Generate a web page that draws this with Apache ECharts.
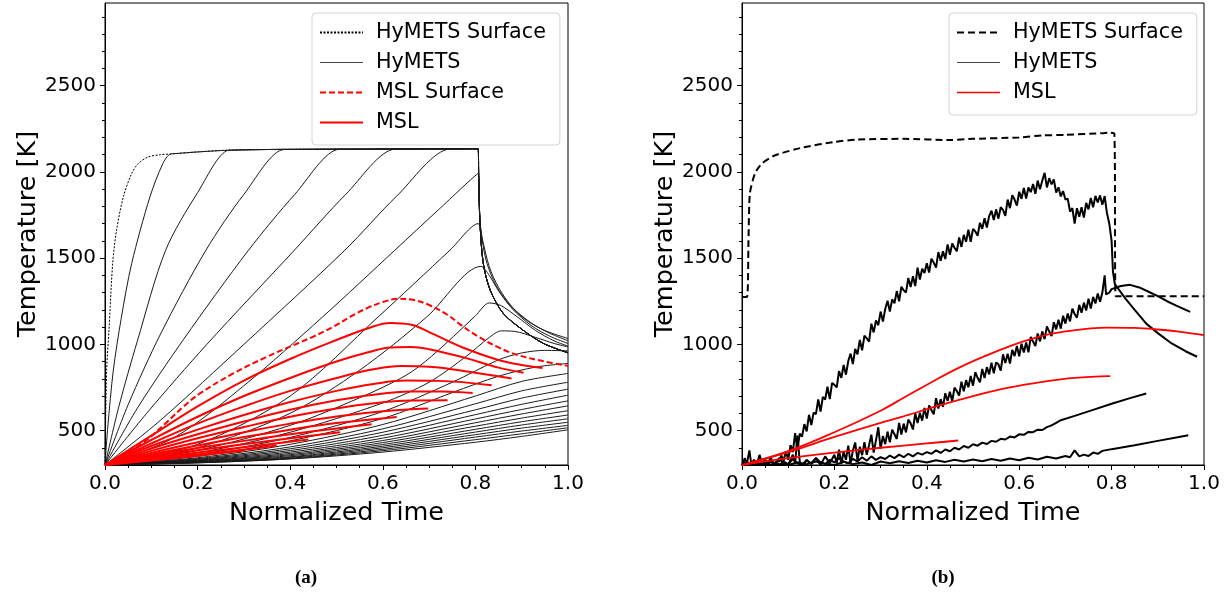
<!DOCTYPE html>
<html><head><meta charset="utf-8">
<script src="https://cdn.jsdelivr.net/npm/echarts@6/dist/echarts.min.js"></script>
<style>html,body{margin:0;padding:0;background:#fff}#c{width:1227px;height:596px}</style>
</head><body><div id="c"></div>
<script>
// ---------- tick labels ----------
const yMajorTicks = [500, 1000, 1500, 2000, 2500];
const yMinorTicks = [400, 600, 700, 800, 900, 1100, 1200, 1300, 1400, 1600, 1700, 1800, 1900, 2100, 2200, 2300, 2400, 2600, 2700, 2800, 2900];

// ---------- panel (a): HyMETS ----------
const aSteepTail = [[0.807,1990],[0.810,1700],[0.817,1470],[0.832,1314],[0.86,1180],[0.903,1082],[0.947,1005],[1.0,951]];
const aHyMETSSurface = [[0,300],[0.0036,850],[0.0086,1082],[0.0166,1469],[0.025,1662],[0.0396,1855],[0.0576,1991],[0.072,2049],[0.0936,2087],[0.12,2100],[0.141,2104],[0.2,2116],[0.267,2126],[0.385,2131],[0.6,2133],[0.8,2134],[0.806,2134]];
const aH1 = [[0,300],[0.006,520],[0.018,850],[0.035,1150],[0.0576,1469],[0.097,1855],[0.125,2049],[0.141,2104],[0.15,2106],[0.2,2116],[0.267,2126],[0.385,2131],[0.6,2133],[0.8,2134],[0.806,2134]];
const aH2 = [[0,300],[0.03,640],[0.07,1020],[0.131,1546],[0.2,1880],[0.267,2126],[0.28,2127],[0.385,2131],[0.6,2133],[0.8,2134],[0.806,2134]];
const aH3 = [[0,300],[0.05,650],[0.12,1060],[0.218,1546],[0.3,1870],[0.387,2130],[0.4,2130],[0.6,2133],[0.8,2134],[0.806,2134]];
const aH4 = [[0,300],[0.07,630],[0.17,1030],[0.31,1546],[0.41,1870],[0.506,2131],[0.52,2131],[0.65,2133],[0.8,2134],[0.806,2134]];
const aH5 = [[0,300],[0.09,600],[0.22,1000],[0.409,1546],[0.52,1870],[0.627,2132],[0.64,2132],[0.72,2133],[0.8,2134],[0.806,2134]];
const aH6 = [[0,300],[0.12,560],[0.3,1000],[0.518,1546],[0.63,1860],[0.746,2133],[0.76,2133],[0.8,2134],[0.806,2134]];
const aH7 = [[0,300],[0.15,460],[0.3,760],[0.47,1159],[0.626,1546],[0.72,1780],[0.806,1990],[0.809,1750],[0.815,1600],[0.825,1470],[0.845,1340],[0.875,1225],[0.91,1140],[0.95,1080],[1.0,1034]];
const aH8 = [[0,300],[0.2,420],[0.4,700],[0.59,1159],[0.745,1546],[0.806,1700],[0.815,1610],[0.83,1450],[0.85,1330],[0.88,1215],[0.92,1125],[0.96,1065],[1.0,1021]];
const aH9 = [[0,300],[0.2,400],[0.4,600],[0.55,850],[0.695,1159],[0.812,1452],[0.83,1400],[0.85,1310],[0.88,1205],[0.92,1110],[0.96,1048],[1.0,1005]];
const aH10 = [[0,300],[0.2,385],[0.4,530],[0.55,690],[0.65,820],[0.705,930],[0.8,1165],[0.83,1240],[0.855,1225],[0.89,1160],[0.93,1080],[0.97,1020],[1.0,990]];
const aH11 = [[0,300],[0.2,370],[0.4,490],[0.6,660],[0.7,780],[0.78,930],[0.83,1040],[0.856,1078],[0.885,1075],[0.93,1040],[0.97,1005],[1.0,985]];
const aH12 = [[0,300],[0.2,360],[0.4,460],[0.6,610],[0.75,780],[0.85,910],[0.9,950],[0.95,965],[1.0,962]];
const aH13 = [[0,300],[0.2,350],[0.4,440],[0.6,570],[0.75,720],[0.85,815],[0.93,868],[1.0,889]];
const aH14 = [[0,300],[0.2,342],[0.4,420],[0.6,535],[0.8,700],[0.9,785],[1.0,831]];
const aH15 = [[0,300],[0.2,337],[0.4,405],[0.6,510],[0.8,655],[0.9,730],[1.0,780]];
const aH16 = [[0,300],[0.2,333],[0.4,394],[0.6,490],[0.8,620],[0.9,688],[1.0,740]];
const aH17 = [[0,300],[0.2,330],[0.4,384],[0.6,472],[0.8,592],[0.9,652],[1.0,705]];
const aH18 = [[0,300],[0.2,327],[0.4,375],[0.6,456],[0.8,567],[0.9,622],[1.0,672]];
const aH19 = [[0,300],[0.2,324],[0.4,367],[0.6,442],[0.8,545],[0.9,596],[1.0,643]];
const aH20 = [[0,300],[0.2,322],[0.4,360],[0.6,430],[0.8,525],[0.9,572],[1.0,615]];
const aH21 = [[0,300],[0.2,320],[0.4,354],[0.6,419],[0.8,507],[0.9,551],[1.0,590]];
const aH22 = [[0,300],[0.2,318],[0.4,348],[0.6,409],[0.8,491],[0.9,532],[1.0,568]];
const aH23 = [[0,300],[0.2,316],[0.4,344],[0.6,400],[0.8,476],[0.9,514],[1.0,548]];
const aH24 = [[0,300],[0.2,315],[0.4,340],[0.6,391],[0.8,462],[0.9,497],[1.0,530]];
const aH25 = [[0,300],[0.2,313],[0.4,337],[0.6,383],[0.8,447],[0.9,481],[1.0,516]];
const aH26 = [[0,300],[0.2,312],[0.4,335],[0.6,375],[0.8,432],[0.9,466],[1.0,504]];

// ---------- panel (a): MSL ----------
const aMSLSurface = [[0,300],[0.04,360],[0.083,430],[0.13,540],[0.17,640],[0.205,715],[0.277,831],[0.349,927],[0.407,995],[0.45,1045],[0.494,1103],[0.53,1160],[0.566,1210],[0.6,1245],[0.634,1264],[0.665,1258],[0.7,1228],[0.74,1170],[0.77,1110],[0.806,1045],[0.85,982],[0.889,940],[0.95,900],[1.0,875]];
const aM1 = [[0,300],[0.1,470],[0.2,640],[0.3,790],[0.4,915],[0.5,1025],[0.57,1095],[0.616,1124],[0.66,1115],[0.702,1068],[0.774,980],[0.846,912],[0.9,880],[0.945,863]];
const aM2 = [[0,300],[0.1,445],[0.2,580],[0.3,700],[0.4,805],[0.5,900],[0.57,955],[0.616,982],[0.66,985],[0.7,972],[0.78,920],[0.85,865],[0.904,835]];
const aM3 = [[0,300],[0.1,425],[0.2,540],[0.3,640],[0.4,730],[0.5,805],[0.58,855],[0.64,874],[0.7,870],[0.8,835],[0.878,802]];
const aM4 = [[0,300],[0.1,410],[0.2,505],[0.3,590],[0.4,665],[0.5,730],[0.58,770],[0.65,790],[0.72,788],[0.835,763]];
const aM5 = [[0,300],[0.1,395],[0.2,478],[0.3,552],[0.4,620],[0.5,675],[0.58,708],[0.66,726],[0.73,727],[0.794,718]];
const aM6 = [[0,300],[0.1,382],[0.2,455],[0.3,520],[0.4,580],[0.5,628],[0.58,658],[0.66,674],[0.74,676]];
const aM7 = [[0,300],[0.1,370],[0.2,432],[0.3,490],[0.4,540],[0.5,582],[0.6,612],[0.698,628]];
const aM8 = [[0,300],[0.1,360],[0.2,413],[0.3,462],[0.4,505],[0.5,543],[0.63,579]];
const aM9 = [[0,300],[0.1,352],[0.2,398],[0.3,440],[0.4,478],[0.5,512],[0.576,537]];
const aM10 = [[0,300],[0.1,345],[0.2,385],[0.3,421],[0.4,455],[0.508,490]];
const aM11 = [[0,300],[0.1,338],[0.2,372],[0.3,403],[0.439,448]];
const aM12 = [[0,300],[0.1,332],[0.2,361],[0.3,388],[0.371,413]];
const aM13 = [[0,300],[0.1,326],[0.2,354],[0.302,384]];

// ---------- panel (b) ----------
const bHyMETSSurface = [[0,1275],[0.011,1275],[0.014,1600],[0.017,1875],[0.028,1991],[0.043,2049],[0.072,2097],[0.13,2141],[0.2,2174],[0.25,2188],[0.35,2192],[0.45,2185],[0.5,2192],[0.6,2200],[0.65,2212],[0.7,2215],[0.78,2225],[0.795,2228],[0.806,2222],[0.809,1279],[1.0,1279]];
const bH1 = [[0,300],[0.006,340],[0.01,300],[0.016,385],[0.02,305],[0.026,330],[0.032,300],[0.038,360],[0.044,305],[0.05,320],[0.056,300],[0.062,345],[0.068,305],[0.074,320],[0.08,320],[0.085,355],[0.09,325],[0.095,380],[0.1,330],[0.105,415],[0.11,375],[0.115,485],[0.12,390],[0.125,482],[0.13,465],[0.135,537],[0.14,495],[0.145,591],[0.15,532],[0.155,604],[0.16,595],[0.165,680],[0.17,610],[0.175,695],[0.18,680],[0.185,754],[0.19,682],[0.195,776],[0.2,765],[0.205,750],[0.21,845],[0.215,805],[0.22,880],[0.225,824],[0.23,903],[0.235,946],[0.24,885],[0.245,974],[0.25,942],[0.255,1026],[0.26,965],[0.265,1050],[0.27,1035],[0.275,1015],[0.28,1120],[0.285,1069],[0.29,1138],[0.295,1111],[0.3,1190],[0.305,1132],[0.31,1205],[0.315,1253],[0.32,1190],[0.325,1261],[0.33,1238],[0.335,1309],[0.34,1250],[0.345,1334],[0.35,1313],[0.355,1301],[0.36,1385],[0.365,1333],[0.37,1395],[0.375,1338],[0.38,1445],[0.385,1376],[0.39,1438],[0.395,1414],[0.4,1470],[0.405,1416],[0.41,1497],[0.415,1474],[0.42,1445],[0.425,1535],[0.43,1485],[0.435,1540],[0.44,1495],[0.445,1580],[0.45,1520],[0.455,1585],[0.46,1560],[0.465,1540],[0.47,1620],[0.475,1565],[0.48,1635],[0.485,1595],[0.49,1665],[0.495,1595],[0.5,1670],[0.505,1655],[0.51,1630],[0.515,1705],[0.52,1670],[0.525,1731],[0.53,1678],[0.535,1744],[0.54,1775],[0.545,1721],[0.55,1783],[0.555,1729],[0.56,1795],[0.565,1780],[0.57,1745],[0.575,1840],[0.58,1790],[0.585,1865],[0.59,1840],[0.595,1805],[0.6,1885],[0.605,1844],[0.61,1907],[0.615,1846],[0.62,1910],[0.625,1883],[0.63,1930],[0.635,1873],[0.64,1950],[0.645,1900],[0.65,1950],[0.655,1995],[0.66,1910],[0.665,1964],[0.67,1928],[0.675,1956],[0.68,1880],[0.685,1911],[0.69,1858],[0.695,1889],[0.7,1840],[0.705,1845],[0.71,1770],[0.715,1790],[0.72,1700],[0.725,1790],[0.73,1740],[0.735,1795],[0.74,1735],[0.745,1821],[0.75,1783],[0.755,1849],[0.76,1795],[0.765,1861],[0.77,1823],[0.775,1864],[0.78,1810],[0.785,1860],[0.79,1760],[0.795,1700],[0.8,1600],[0.803,1420],[0.807,1350],[0.815,1320],[0.83,1265],[0.85,1200],[0.875,1120],[0.9,1065],[0.93,1005],[0.96,960],[0.985,928]];
const bH2 = [[0,300],[0.01,320],[0.02,300],[0.03,315],[0.04,300],[0.05,330],[0.06,305],[0.07,300],[0.08,340],[0.09,310],[0.1,300],[0.11,360],[0.115,310],[0.12,470],[0.125,320],[0.13,300],[0.14,330],[0.15,305],[0.16,340],[0.17,300],[0.18,350],[0.19,310],[0.2,360],[0.205,312],[0.21,389],[0.215,306],[0.22,378],[0.225,330],[0.23,412],[0.235,310],[0.24,383],[0.245,431],[0.25,325],[0.255,406],[0.26,357],[0.265,433],[0.27,359],[0.275,415],[0.28,476],[0.285,372],[0.29,443],[0.295,519],[0.3,395],[0.305,468],[0.31,421],[0.315,494],[0.32,432],[0.325,505],[0.33,478],[0.335,451],[0.34,544],[0.345,477],[0.35,540],[0.355,489],[0.36,563],[0.365,542],[0.37,506],[0.375,600],[0.38,544],[0.385,603],[0.39,557],[0.395,631],[0.4,570],[0.405,645],[0.41,619],[0.415,594],[0.42,688],[0.425,628],[0.43,682],[0.435,637],[0.44,716],[0.445,671],[0.45,725],[0.455,670],[0.46,749],[0.465,729],[0.47,703],[0.475,783],[0.48,727],[0.485,792],[0.49,751],[0.495,816],[0.5,760],[0.505,838],[0.51,806],[0.515,779],[0.52,857],[0.525,805],[0.53,868],[0.535,826],[0.54,894],[0.545,832],[0.55,895],[0.555,884],[0.56,848],[0.565,942],[0.57,891],[0.575,945],[0.58,889],[0.585,968],[0.59,932],[0.595,991],[0.6,930],[0.605,1004],[0.61,952],[0.615,1011],[0.62,954],[0.625,1043],[0.63,1016],[0.635,990],[0.64,1063],[0.645,1017],[0.65,1075],[0.655,1030],[0.66,1104],[0.665,1074],[0.67,1048],[0.675,1128],[0.68,1087],[0.685,1142],[0.69,1091],[0.695,1166],[0.7,1120],[0.705,1179],[0.71,1133],[0.715,1207],[0.72,1176],[0.725,1155],[0.73,1229],[0.735,1183],[0.74,1242],[0.745,1196],[0.75,1265],[0.755,1207],[0.76,1275],[0.765,1237],[0.77,1295],[0.775,1247],[0.78,1300],[0.785,1400],[0.788,1290],[0.795,1300],[0.8,1320],[0.82,1338],[0.84,1345],[0.86,1330],[0.88,1305],[0.9,1280],[0.92,1250],[0.94,1225],[0.97,1188]];
const bH3 = [[0,300],[0.01,315],[0.02,300],[0.03,325],[0.04,305],[0.05,300],[0.06,330],[0.07,310],[0.08,300],[0.09,320],[0.1,305],[0.11,335],[0.12,310],[0.13,300],[0.14,325],[0.15,310],[0.16,340],[0.17,315],[0.18,305],[0.19,330],[0.2,315],[0.21,340],[0.22,320],[0.23,310],[0.24,335],[0.25,320],[0.26,345],[0.27,325],[0.28,350],[0.29,330],[0.3,345],[0.31,335],[0.32,355],[0.33,340],[0.34,360],[0.35,345],[0.36,365],[0.37,350],[0.38,370],[0.39,360],[0.4,375],[0.41,365],[0.42,385],[0.43,370],[0.44,390],[0.45,380],[0.46,400],[0.47,390],[0.48,410],[0.49,400],[0.5,420],[0.51,412],[0.52,430],[0.53,422],[0.54,440],[0.55,435],[0.56,452],[0.57,448],[0.58,465],[0.59,460],[0.6,478],[0.61,475],[0.62,492],[0.63,490],[0.64,505],[0.65,503],[0.66,520],[0.67,530],[0.68,545],[0.69,560],[0.72,585],[0.76,620],[0.8,655],[0.84,688],[0.875,715]];
const bH4 = [[0,300],[0.02,310],[0.04,300],[0.06,318],[0.08,305],[0.1,300],[0.12,315],[0.14,305],[0.16,320],[0.18,308],[0.2,300],[0.22,318],[0.24,305],[0.26,315],[0.28,300],[0.3,320],[0.32,310],[0.34,322],[0.36,312],[0.38,325],[0.4,315],[0.42,328],[0.44,318],[0.46,330],[0.48,320],[0.5,332],[0.52,322],[0.54,335],[0.56,325],[0.58,338],[0.6,328],[0.62,342],[0.64,332],[0.66,348],[0.68,338],[0.7,352],[0.71,345],[0.72,385],[0.73,350],[0.74,360],[0.75,352],[0.76,372],[0.77,365],[0.78,382],[0.8,392],[0.85,415],[0.9,440],[0.94,460],[0.966,473]];
const bM1 = [[0,300],[0.1,380],[0.2,490],[0.3,615],[0.35,690],[0.42,795],[0.47,865],[0.52,925],[0.58,990],[0.64,1042],[0.7,1075],[0.79,1097],[0.85,1095],[0.9,1086],[0.95,1072],[1.0,1053]];
const bM2 = [[0,300],[0.1,375],[0.2,463],[0.3,545],[0.346,579],[0.42,640],[0.5,700],[0.58,750],[0.65,782],[0.72,805],[0.797,815]];
const bM3 = [[0,300],[0.1,340],[0.2,372],[0.3,400],[0.4,425],[0.468,442]];

// ---------- build ----------
const FONT = 'DejaVu Sans';
const aHyMETS = [aH1,aH2,aH3,aH4,aH5,aH6,aH7,aH8,aH9,aH10,aH11,aH12,aH13,aH14,aH15,aH16,aH17,aH18,aH19,aH20,aH21,aH22,aH23,aH24,aH25,aH26];
const aSteepSet = new Set([aH1,aH2,aH3,aH4,aH5,aH6]);
const aMSL = [aM1,aM2,aM3,aM4,aM5,aM6,aM7,aM8,aM9,aM10,aM11,aM12,aM13];
const bHyMETS = [bH1,bH2,bH3,bH4];
const bMSL = [bM1,bM2,bM3];

function ln(data, name, xi, yi, style, smooth) {
  return {type:'line', name, xAxisIndex:xi, yAxisIndex:yi, data, symbol:'none', showSymbol:false,
    smooth: smooth, lineStyle: style, itemStyle:{color: style.color}, silent:true, animation:false};
}
const series = [];
series.push(ln(aHyMETSSurface.concat(aSteepTail), 'HyMETS Surface', 0, 0, {color:'#000', width:1, type:[2,1.5]}, 0.3));
aHyMETS.forEach(d => series.push(ln(aSteepSet.has(d) ? d.concat(aSteepTail) : d, 'HyMETS', 0, 0, {color:'#1a1a1a', width:1}, 0.3)));
series.push(ln(aMSLSurface, 'MSL Surface', 0, 0, {color:'#ff0000', width:2, type:[6,3]}, 0.4));
aMSL.forEach(d => series.push(ln(d, 'MSL', 0, 0, {color:'#ff0000', width:2}, 0.4)));

series.push(ln(bHyMETSSurface, 'HyMETS Surface (b)', 1, 2, {color:'#000', width:2, type:[7,4]}, 0.2));
bHyMETS.forEach(d => series.push(ln(d, 'HyMETS (b)', 1, 2, {color:'#000', width:2}, false)));
bMSL.forEach(d => series.push(ln(d, 'MSL (b)', 1, 2, {color:'#ff0000', width:1.8}, 0.4)));

function xAx(gi) {
  return {type:'value', gridIndex:gi, min:0, max:1, interval:0.2,
    axisLine:{show:true, lineStyle:{color:'#000', width:1}},
    axisTick:{show:true, inside:false, length:5, lineStyle:{color:'#000', width:1}},
    minorTick:{show:true, splitNumber:4, length:3, lineStyle:{color:'#000', width:1}},
    splitLine:{show:false}, minorSplitLine:{show:false},
    axisLabel:{fontSize:20, color:'#000', fontFamily:FONT, margin:9, formatter:v => v.toFixed(1), showMaxLabel:true, showMinLabel:true},
    name:'Normalized Time', nameLocation:'middle', nameGap:35,
    nameTextStyle:{fontSize:25.5, color:'#000', fontFamily:FONT}};
}
function yAx(gi) {
  return {type:'value', gridIndex:gi, min:300, max:2980,
    axisLine:{show:true, lineStyle:{color:'#000', width:1}},
    axisTick:{show:true, inside:false, length:5, customValues:yMajorTicks, lineStyle:{color:'#000', width:1}},
    axisLabel:{fontSize:20, color:'#000', fontFamily:FONT, margin:9, customValues:yMajorTicks, formatter:v => String(v)},
    splitLine:{show:false},
    name:'Temperature [K]', nameLocation:'middle', nameGap:64, nameRotate:90,
    nameTextStyle:{fontSize:25.5, color:'#000', fontFamily:FONT}};
}
function yMinorAx(gi) {
  return {type:'value', gridIndex:gi, min:300, max:2980, position:'left',
    axisLine:{show:false},
    axisTick:{show:true, inside:false, length:3, customValues:yMinorTicks, lineStyle:{color:'#000', width:1}},
    axisLabel:{show:false}, splitLine:{show:false}};
}
function legend(left, items) {
  return {left, top:13, orient:'vertical', data:items, itemWidth:43, itemHeight:14, itemGap:9,
    padding:[9,14,12,7], borderColor:'#d4d4d4', borderWidth:1, borderRadius:4,
    backgroundColor:'rgba(255,255,255,0.85)', selectedMode:false,
    itemStyle:{opacity:0},
    formatter: n => n.replace(' (b)', ''),
    textStyle:{fontSize:20.7, fontFamily:FONT, color:'#000', lineHeight:20, padding:[0,0,0,8]}};
}

const chart = echarts.init(document.getElementById('c'), null, {renderer:'canvas'});
chart.setOption({
  backgroundColor:'#fff',
  animation:false,
  grid:[
    {left:105, top:3, width:463, height:462, show:true, borderColor:'#000', borderWidth:1, containLabel:false},
    {left:742, top:3, width:462, height:462, show:true, borderColor:'#000', borderWidth:1, containLabel:false}
  ],
  xAxis:[xAx(0), xAx(1)],
  yAxis:[yAx(0), yMinorAx(0), yAx(1), yMinorAx(1)],
  legend:[
    legend(312, ['HyMETS Surface', {name:'HyMETS', lineStyle:{color:'#444', width:1}}, 'MSL Surface', 'MSL']),
    legend(949, ['HyMETS Surface (b)', {name:'HyMETS (b)', lineStyle:{color:'#444', width:1.2}}, {name:'MSL (b)', lineStyle:{width:1.5}}])
  ],
  graphic:[
    {type:'text', x:306, y:578, style:{text:'(a)', font:'bold 19px "Liberation Serif"', fill:'#000', align:'center', verticalAlign:'middle'}},
    {type:'text', x:943, y:578, style:{text:'(b)', font:'bold 19px "Liberation Serif"', fill:'#000', align:'center', verticalAlign:'middle'}}
  ],
  series
});
</script>
</body></html>
